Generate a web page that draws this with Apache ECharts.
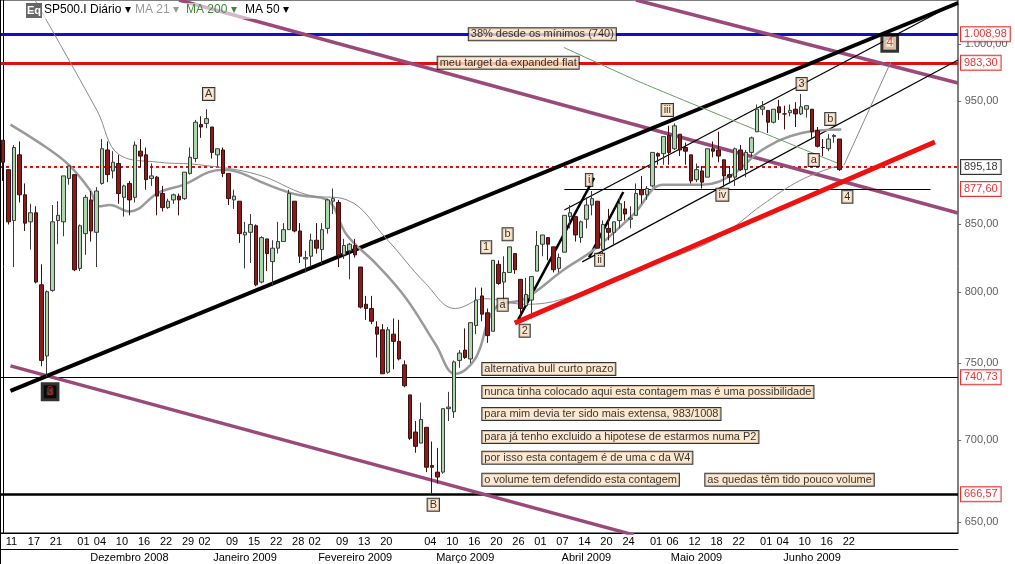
<!DOCTYPE html>
<html><head><meta charset="utf-8">
<script src="https://cdn.jsdelivr.net/npm/echarts@6/dist/echarts.min.js"></script>
<style>html,body{margin:0;padding:0;background:#fff}#c{width:1015px;height:564px}</style>
</head><body><div id="c"></div>
<script>
// ---- DATA ----
const startDate = '2008-11-11';
const holidays = ['2008-11-27','2008-12-25','2009-01-01','2009-01-19','2009-02-16','2009-04-10','2009-05-25','2009-07-03'];
// [open, close, low, high] daily from 2008-11-11 to 2009-06-22
const ohlc = [
[917,899,884,917],[893,852,850,893],[853,911,818,913],[905,873,867,916],[873,851,845,882],[852,859,831,866],[859,807,806,864],[805,752,748,820],[755,800,741,801],[801,852,800,865],[853,857,835,868],[852,888,841,888],[886,896,881,896],
[889,816,815,889],[817,849,815,850],[843,871,827,873],[869,845,837,876],[844,876,818,879],[882,910,881,918],[909,889,883,916],[892,899,886,908],[898,874,866,905],[871,880,856,881],[882,869,857,884],[871,913,867,916],[908,904,895,918],[905,885,877,911],[886,888,880,898],[887,872,857,888],[874,863,860,880],[863,868,862,870],[869,873,866,874],[872,869,857,874],[870,891,869,891],[890,903,889,911],
[902,932,899,934],[930,928,919,937],[931,935,927,943],[928,907,902,928],[905,910,896,910],[909,890,887,911],[890,870,865,890],[869,872,862,877],[868,843,836,868],[842,844,817,852],[844,850,821,858],[849,805,804,850],[807,840,806,841],[839,828,815,839],[822,832,804,838],[832,837,828,852],[837,846,837,851],[846,874,846,877],[868,845,844,868],[845,826,821,851],
[824,825,814,830],[826,838,818,843],[838,832,828,851],[831,846,820,851],[847,869,843,870],[868,870,858,878],[867,827,818,869],[827,834,824,839],[830,835,809,836],[834,827,825,839],[818,789,788,818],[791,788,780,797],[788,779,777,797],[775,770,754,779],[773,743,743,777],[744,773,743,775],[770,765,746,781],[765,753,752,780],[749,735,734,752],
[729,701,700,729],[705,696,692,712],[698,713,698,724],[708,683,680,708],[684,683,667,699],[680,677,673,695],[680,720,679,720],[720,721,712,731],[718,751,714,752],[752,757,747,759],[759,754,753,774],[753,778,750,778],[776,794,770,803],[797,784,779,803],[785,769,764,788],[772,823,772,823],[820,806,805,823],[807,814,790,826],[814,833,814,833],[828,816,813,828],[809,788,779,809],[790,798,790,810],
[794,811,781,811],[815,834,815,845],[835,842,826,842],[840,835,823,840],[833,816,814,833],[817,825,814,828],[829,857,829,857],[856,859,847,865],[856,842,837,856],[840,852,836,853],[854,865,847,871],[865,870,857,876],[868,832,832,868],[831,850,826,853],[847,844,838,862],[844,852,835,852],[853,866,847,871],[862,858,853,868],[854,855,847,864],[857,874,857,882],[877,873,866,888],
[873,878,869,880],[880,907,879,907],[906,904,897,907],[906,920,897,920],[921,907,897,929],[910,929,909,931],[922,909,904,922],[911,908,897,915],[905,884,882,905],[885,893,883,898],[892,883,878,896],[887,910,887,910],[910,908,903,916],[909,904,899,924],[901,888,879,901],[889,887,882,896],[887,910,880,911],[909,893,892,913],[893,907,887,909],[907,919,903,920],
[924,943,924,947],[943,945,938,950],[942,932,923,942],[932,943,931,943],[945,940,934,951],[939,939,926,946],[940,942,937,947],[943,939,928,949],[939,945,938,956],[943,946,936,946],[943,924,919,943],[925,912,911,928],[911,911,904,918],[910,918,908,922],[920,921,915,922],[918,893,892,918]
];
const totalSlots = 174;
const dayLabels = ['2008-11-11','2008-11-17','2008-11-21','2008-12-01','2008-12-04','2008-12-10','2008-12-16','2008-12-22','2008-12-29','2009-01-02','2009-01-09','2009-01-15','2009-01-22','2009-01-28','2009-02-02','2009-02-09','2009-02-13','2009-02-20','2009-03-04','2009-03-10','2009-03-16','2009-03-20','2009-03-26','2009-04-01','2009-04-07','2009-04-14','2009-04-20','2009-04-24','2009-05-01','2009-05-06','2009-05-12','2009-05-18','2009-05-22','2009-06-01','2009-06-04','2009-06-10','2009-06-16','2009-06-22'];
const emptyCells = ['2009-06-26','2009-06-30','2009-07-06','2009-07-09','2009-07-13','2009-07-16'];
const monthNames = {'2008-12':'Dezembro 2008','2009-01':'Janeiro 2009','2009-02':'Fevereiro 2009','2009-03':'Março 2009','2009-04':'Abril 2009','2009-05':'Maio 2009','2009-06':'Junho 2009'};
const yTicks = [650,700,750,800,850,950,1000];
// moving averages: [dayIndex, value]
const ma21 = [[1.4,930],[8.6,909],[12.2,896],[15.8,877],[17.6,864],[19.4,865],[23,860],[28.4,875],[32.9,881],[37.4,891],[40.1,893],[42.8,891],[48.1,881],[53.5,873],[58.9,869],[62.5,842],[67.9,820],[73.3,795],[78.6,763],[82.2,743],[85.8,753],[89.4,788],[94.8,795],[101.9,816],[107.4,831],[114.6,858],[120,881],[127.1,881],[132.5,889],[137.9,909],[145.1,923],[152.3,926]];
const ma50 = [[5.9,1040],[17.1,942],[21.2,905],[28.4,899],[35.6,897],[46.3,889],[55.3,873],[62.5,869],[69.7,839],[76.8,806],[82.2,788],[87.6,795],[94.8,791],[101.9,795],[112.8,813],[123.5,828],[130.7,842],[137.9,865],[145.1,885],[152.3,897]];
const ma200 = [[101.9,997],[116.4,965],[152.3,897]];
// drawn trend lines [[i,v],[i,v]]
const thickBlack = [[[1.4,731.6],[173.5,1037.7]]];
const thinBlack = [[[102,861.2],[173.5,1038.6]],[[105.25,821.8],[173.5,985.7]],[[102,877.6],[168.5,877.6]]];
const shortBlack = [[[93.6,780],[107.4,886.4]],[[106.5,825.2],[112.7,875.2]]];
const redTrend = [[[93,777.8],[169.3,915.6]]];
const purpleLines = [[[32,1040.5],[173.5,858.8]],[[115,1040.5],[173.5,965.5]],[[1.4,748.3],[114.6,642.6]]];
const grayProj = [[[152.8,896.8],[161.3,984]]];
const levels = {blue:1008.98, red:983.30, dotted:895.18, support:877.60, low3:740.73, lowB:666.57};
const waveLabels = [['A',37.4,956],['B',78.2,660.3],['1',87.8,832.8],['b',91.7,842.5],['a',90.8,790.6],['2',94.8,772.4],['i',106.5,884.8],['ii',108.4,823.3],['iii',120.7,942.3],['iv',130.7,873.1],['3',145.1,964.7],['b',150.3,934.8],['a',147.3,900.8],['4',153.4,871.5]];
const boldLabels = [['4',161.1,1000.8,'#fde3c5'],['3',8.6,731,'#000']];
const notes = [['alternativa bull curto prazo',87.1,746.2],['nunca tinha colocado aqui esta contagem mas é uma possibilidade',87.1,730.9],['para mim devia ter sido mais extensa, 983/1008',87.1,716.6],['para já tenho excluido a hipotese de estarmos numa P2',87.1,701.9],['por isso esta contagem é de uma c da W4',87.1,688.8],['o volume tem defendido esta contagem',87.1,675.3],['as quedas têm tido pouco volume',127.6,675.3]];
const topNotes = [['38% desde os mínimos (740)',98,levels.blue,'c'],['meu target da expanded flat',79,levels.red,'l']];
const priceBoxes = [['1.008,98',levels.blue,'#d00'],['983,30',levels.red,'#d00'],['895,18',levels.dotted,'#000'],['877,60',levels.support,'#d00'],['740,73',levels.low3,'#d00'],['666,57',levels.lowB,'#d00']];

// ---- BUILD ----
const pad=n=>String(n).padStart(2,'0');
const dates=[];
{let d=new Date(startDate+'T12:00:00Z');
 while(dates.length<totalSlots){const s=d.getUTCFullYear()+'-'+pad(d.getUTCMonth()+1)+'-'+pad(d.getUTCDate());
  const wd=d.getUTCDay(); if(wd!==0&&wd!==6&&!holidays.includes(s)) dates.push(s); d.setUTCDate(d.getUTCDate()+1);} }
const candles=dates.map((d,i)=>ohlc[i]||'-');
const daySet=new Set(dayLabels.concat(emptyCells));
const firstOfMonth=new Set(); const monthMid={};
{const groups={};dates.forEach((d,i)=>{const m=d.slice(0,7);(groups[m]=groups[m]||[]).push(i);});
 Object.keys(groups).forEach(m=>{const g=groups[m];firstOfMonth.add(g[0]);monthMid[Math.floor((g[0]+g[g.length-1])/2)]=monthNames[m]||'';});}
const font='Liberation Sans';
const boxLbl=(extra)=>Object.assign({show:true,fontFamily:font,fontSize:11,color:'#000',backgroundColor:'#fde3c5',borderColor:'#000',borderWidth:1,padding:[1,2,0,2]},extra);
const ln=(data,color,width,type,z)=>({type:'lines',coordinateSystem:'cartesian2d',xAxisIndex:2,yAxisIndex:0,data:data.map(c=>({coords:c})),lineStyle:{color,width,type:type||'solid',opacity:1},z:z||3,silent:true,clip:true});
const hline=(v,color,width,type,z)=>ln([[[-0.5,v],[173.5,v]]],color,width,type,z);
const sc=(data,label,z)=>({type:'scatter',xAxisIndex:2,yAxisIndex:0,symbolSize:0,data,label,z:z||10,silent:true,clip:false});

const series=[
 {type:'candlestick',xAxisIndex:0,yAxisIndex:0,data:candles,barMaxWidth:4,barMinWidth:4,
  itemStyle:{color:'#a9d8a9',color0:'#8e1b1b',borderColor:'#3a3a3a',borderColor0:'#3a1010',borderWidth:1},z:5},
 {type:'line',xAxisIndex:2,data:ma21,smooth:0.4,symbol:'none',lineStyle:{color:'#9a9a9a',width:2.5},z:4},
 {type:'line',xAxisIndex:2,data:ma50,smooth:0.4,symbol:'none',lineStyle:{color:'#8a8a8a',width:1},z:4},
 {type:'line',xAxisIndex:2,data:ma200,smooth:0.2,symbol:'none',lineStyle:{color:'#6a9a6a',width:1},z:4},
 hline(levels.blue,'#1010cc',3), hline(levels.red,'#e01010',3), hline(levels.dotted,'#e01010',2,[3,3]),
 hline(levels.low3,'#000',1), hline(levels.lowB,'#000',2.5),
 ln(purpleLines,'#9a4a7a',3.5), ln(thickBlack,'#000',4), ln(thinBlack,'#000',1.2), ln(shortBlack,'#000',2.5),
 ln(redTrend,'#ee1111',5,null,6), ln(grayProj,'#888',1),
 sc(waveLabels.map(w=>({value:[w[1],w[2]],label:{formatter:w[0]}})),boxLbl({position:'inside'})),
 sc(boldLabels.map(w=>({value:[w[1],w[2]],label:{formatter:w[0],backgroundColor:w[3]}})),boxLbl({position:'inside',color:'#e02020',borderWidth:3,fontSize:12,padding:[1,3,0,3]})),
 sc(notes.map(w=>({value:[w[1],w[2]],label:{formatter:w[0]}})),boxLbl({position:'right',distance:0})),
 sc(topNotes.map(w=>({value:[w[1],w[2]],label:{formatter:w[0],position:w[3]==='c'?'inside':'right',distance:0}})),boxLbl({})),
 sc(yTicks.map(v=>({value:[173.5,v],label:{formatter:'- '+v.toFixed(2).replace('.',',').replace(/^1(\d{3})/,'1.$1')}})),{show:true,position:'right',distance:0,fontFamily:font,fontSize:11,color:'#333'},8),
 sc(priceBoxes.map(w=>({value:[173.5,w[1]],label:{formatter:w[0],color:w[2],borderColor:w[2]}})),{show:true,position:'right',distance:3,fontFamily:font,fontSize:11,backgroundColor:'#fff',borderWidth:1,padding:[2,3,1,3]},12)
];

const chart=echarts.init(document.getElementById('c'));
chart.setOption({
 animation:false,
 grid:{left:-10.8,right:57,top:0,bottom:31,show:true,borderColor:'#000',borderWidth:1},
 xAxis:[
  {type:'category',data:dates,boundaryGap:true,position:'bottom',
   axisLine:{lineStyle:{color:'#000'}},
   axisTick:{interval:(i,v)=>daySet.has(v),length:16,lineStyle:{color:'#000'}},
   axisLabel:{interval:(i,v)=>daySet.has(v),formatter:v=>dayLabels.includes(v)?v.slice(8):'',fontFamily:font,fontSize:11,color:'#000',margin:3,align:'left',padding:[0,0,0,3]},
   splitLine:{show:false}},
  {type:'category',data:dates,boundaryGap:true,position:'bottom',offset:16,
   axisLine:{lineStyle:{color:'#000'}},
   axisTick:{interval:(i)=>firstOfMonth.has(i),length:16,lineStyle:{color:'#000'}},
   axisLabel:{interval:(i)=>monthMid[i]!==undefined,formatter:(v,i)=>monthMid[i]||'',fontFamily:font,fontSize:11,color:'#000',margin:3}},
  {type:'value',min:-0.5,max:173.5,show:false}
 ],
 yAxis:[{type:'log',logBase:10,min:643.7,max:1040.5,position:'right',axisLine:{show:true,lineStyle:{color:'#000'}},axisLabel:{show:false},axisTick:{show:false},splitLine:{show:false}}],
 graphic:[
  {type:'line',shape:{x1:0.5,y1:0,x2:0.5,y2:564},style:{stroke:'#000',lineWidth:1},z:60},
  {type:'rect',shape:{x:26,y:3,width:16,height:15},style:{fill:'#666'},z:50},
  {type:'text',x:27,y:5,style:{text:'Eq',fill:'#fff',font:'bold 11px Liberation Sans'},z:51},
  {type:'rect',shape:{x:42,y:3,width:245,height:16},style:{fill:'rgba(255,255,255,0.6)'},z:49},
  {type:'text',x:44,y:4,style:{text:'SP500.I Diário ▾',fill:'#000',font:'12px Liberation Sans'},z:51},
  {type:'text',x:135,y:4,style:{text:'MA 21 ▾',fill:'#999',font:'12px Liberation Sans'},z:51},
  {type:'text',x:186,y:4,style:{text:'MA 200 ▾',fill:'#3a8a3a',font:'12px Liberation Sans'},z:51},
  {type:'text',x:245,y:4,style:{text:'MA 50 ▾',fill:'#000',font:'12px Liberation Sans'},z:51}
 ],
 series
});
</script></body></html>
